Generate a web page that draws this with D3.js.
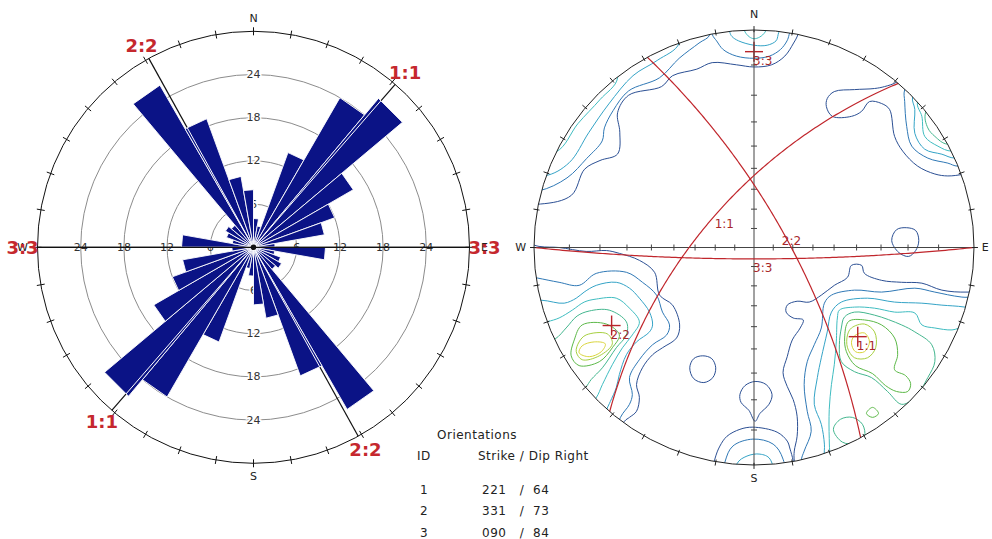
<!DOCTYPE html>
<html>
<head>
<meta charset="utf-8">
<script src="https://cdn.jsdelivr.net/npm/d3@7/dist/d3.min.js"></script>
<style>
  html, body { margin: 0; padding: 0; background: #fff; }
  svg { display: block; }
  text { font-family: "DejaVu Sans", Verdana, sans-serif; }
</style>
</head>
<body>
<svg id="chart" width="992" height="539"></svg>
<script>
// ---------- Rose diagram data: strike counts per 10° bin (bidirectional) ----------
const binStarts = [0, 10, 20, 30, 40, 50, 60, 70, 80, 90, 100, 110, 120, 130, 140, 150, 160, 170];
const binCounts = [4, 3, 14, 24, 27, 16, 12, 10, 3, 10, 3, 4, 4.5, 4, 26, 19, 10, 8];
const binWidth = 10;
const roseMax = 30;
const ringValues = [6, 12, 18, 24];

// ---------- Orientation sets (strike / dip, right-hand rule) ----------
const setIds = [1, 2, 3];
const strikes = [221, 331, 90];
const dips = [64, 73, 84];

const compassLabels = ["N", "E", "S", "W"];
const compassAz = [0, 90, 180, 270];

// ---------- Pole density contours ----------
// colours from the lowest (1) to the highest (8) level
const levelColors = ["#2b4f93", "#2f78b5", "#34a3c6", "#3fbcc0", "#43b68e", "#5cb848", "#a6cf3f", "#d9d43c"];

// rings in net units: percent of the primitive radius, x to the east, y to the north
const nwBandContours = [
  { level: 1, pts: [[-115,22],[-97,20],[-83,24],[-77,36],[-70,40],[-62,43],[-61,53],[-62,62],[-57,70],[-42,74],[-37,79],[-26,82],[-19,85],[-8,84],[0,83],[8,84],[14,88],[18,94],[20,98],[25,120],[0,125],[-60,110],[-110,50]] },
  { level: 2, pts: [[-118,26],[-98,26],[-85,32],[-76,41],[-69,49],[-68,55],[-64,63],[-57,72],[-43,78],[-34,87],[-25,94],[-20,98],[-24,120],[-80,95],[-115,40]] },
  { level: 3, pts: [[-112,36],[-95,33],[-84,39],[-75,53],[-66,66],[-55,79],[-44,86],[-34,94],[-38,115],[-80,90]] },
  { level: 4, pts: [[-110,45],[-90,44],[-80,57],[-70,68],[-62,78],[-70,100],[-100,75]] }
];
const northContours = [
  { level: 2, pts: [[-22,120],[-19,98],[-17,95],[-14,91],[-8,88],[0,87],[7,88],[12,91],[15,95],[16,98],[20,120]] },
  { level: 3, pts: [[-14,120],[-11,99],[-10,97],[-7,95],[0,93],[6,93],[10,95],[11,98],[14,120]] },
  { level: 4, pts: [[-6,115],[-4,99],[0,96],[5,99],[7,115]] }
];
const northEastContours = [
  { level: 1, pts: [[80,90],[65.3,76.3],[59.4,74],[54.8,73.1],[45.7,72.6],[36.5,71.7],[33.3,68.5],[32.9,64.8],[35.6,60.3],[44.3,60.3],[48.9,62.6],[52.5,67.1],[58,66.2],[61.6,63.5],[63.9,51.1],[67.6,44.3],[74.4,37.4],[82.2,33.8],[88.1,32.9],[95.9,33.8],[115,38],[110,75]] },
  { level: 2, pts: [[82,95],[68.5,72.6],[68.5,67.1],[69.4,55.7],[71.7,46.6],[79,41.1],[88.1,38.8],[92.7,37.4],[112,42],[105,75]] },
  { level: 3, pts: [[86,90],[72.1,69.4],[73.1,63.5],[73.1,52.5],[77.6,45.2],[85.4,42.9],[91.3,41.1],[110,45],[105,70]] },
  { level: 4, pts: [[88,85],[74.3,66.9],[76.3,60.3],[77.6,51.1],[83.6,46.6],[90,44.3],[108,50]] },
  { level: 5, pts: [[92,78],[78,62],[79,55],[82.2,51.1],[88.1,47.5],[105,55]] }
];
const spotContours = [
  { level: 1, pts: [[62.6,3.2],[64.8,8.2],[69.4,9.1],[73.5,7.8],[74.9,3.2],[73.5,-1.4],[70.3,-4.1],[65.8,-2.3]] },
  { level: 1, pts: [[-29.2,-55.3],[-27.4,-51.1],[-23.3,-49.8],[-19.2,-51.1],[-17.4,-55.3],[-18.7,-59.8],[-22.8,-62.1],[-27.4,-60.3]] },
  { level: 1, pts: [[-6.4,-67.6],[-4.1,-63.5],[0.5,-61.6],[5.5,-63],[8.2,-67.6],[6.8,-72.1],[2.7,-76.3],[0.5,-79.9],[-2.3,-74.9],[-5.9,-71.2]] }
];
const southWestContours = [
  { level: 1, pts: [[-115,5],[-97.7,0.5],[-88.6,0],[-76.3,-1.8],[-67.1,-1.4],[-61.2,-2.7],[-52.1,-5.9],[-45.2,-11.4],[-42.9,-21.9],[-37,-26.5],[-33.8,-35.6],[-35.2,-41.6],[-41.6,-46.1],[-46.1,-49.3],[-50.7,-55.3],[-53.4,-63],[-52.1,-68.9],[-53.4,-75.3],[-56.6,-78.1],[-58.9,-79.9],[-70,-100],[-120,-40]] },
  { level: 2, pts: [[-120,-10],[-99.1,-13.9],[-88.6,-16],[-79.5,-17.4],[-71.7,-11.9],[-58,-11.4],[-50.7,-16],[-44.3,-21.9],[-41.6,-29.7],[-38.4,-35.6],[-39.7,-40.2],[-46.1,-44.7],[-52.1,-51.6],[-56.6,-59.8],[-55.3,-67.6],[-56.6,-72.1],[-60.7,-78.1],[-68,-100],[-110,-60]] },
  { level: 3, pts: [[-120,-25],[-97,-24.2],[-86.3,-25.6],[-80.8,-23.3],[-77.2,-20.5],[-71.7,-17.4],[-62.6,-16],[-56.6,-18.7],[-52.1,-23.3],[-47.5,-29.7],[-46.1,-35.6],[-47.5,-38.8],[-53.4,-43.4],[-58,-49.3],[-61.2,-58.4],[-62.6,-64.4],[-65.3,-70.8],[-66.9,-74.3],[-75,-95],[-110,-60]] },
  { level: 4, pts: [[-115,-40],[-94.1,-34.2],[-88.6,-32.4],[-82.6,-28.8],[-77.2,-25.1],[-71.7,-23.7],[-62.6,-23.3],[-56.6,-27.9],[-52.1,-34.2],[-55.3,-40.2],[-59.8,-46.1],[-64.4,-53.9],[-68.9,-63],[-71.9,-69.4],[-85,-85],[-110,-60]] },
  { level: 5, pts: [[-110,-50],[-90.6,-42.2],[-85.4,-37],[-80.4,-31.5],[-74.9,-29.2],[-65.8,-28.8],[-58,-34.2],[-58,-40.2],[-62.6,-46.1],[-68.9,-55.3],[-74,-60.7],[-76.7,-64.4],[-95,-78]] },
  { level: 6, pts: [[-78.1,-35.6],[-67.1,-35.2],[-61.2,-40.2],[-64.4,-46.1],[-70.3,-52.5],[-79.5,-54.3],[-83.1,-49.8],[-81.7,-42.5]] },
  { level: 7, pts: [[-76.3,-40.2],[-66.7,-39.7],[-64.4,-44.3],[-70.3,-49.8],[-78.1,-51.6],[-80.8,-47.9],[-79.5,-43.4]] },
  { level: 8, pts: [[-78.1,-45.2],[-72.6,-43.4],[-67.6,-44.3],[-69.4,-47.9],[-74.9,-50.2],[-79.5,-48.4]] }
];
const southContours = [
  { level: 1, pts: [[-22,-120],[-17.8,-97.3],[-15.5,-91.3],[-12.3,-86.8],[-6.4,-83.6],[-0.5,-82.6],[10.5,-84.9],[15.1,-89],[16.4,-92.7],[17.8,-98.2],[20,-120]] },
  { level: 2, pts: [[-16,-120],[-13.2,-98.6],[-9.6,-91.3],[-0.5,-88.1],[8.7,-90.4],[13.2,-97.3],[15,-120]] },
  { level: 3, pts: [[-9,-120],[-7.8,-99.5],[-3.2,-95.9],[2.7,-95],[7.3,-97.3],[9,-120]] }
];
const southEastContours = [
  { level: 1, pts: [[120,-18],[97.3,-20.5],[85.4,-19.6],[76.3,-16.4],[67.1,-16],[58,-15.1],[50.2,-11.9],[48.9,-8.2],[44.3,-8.2],[42.5,-13.7],[36.5,-17.4],[30.6,-21.9],[25.1,-25.1],[19.6,-24.7],[15.1,-26.5],[14.6,-29.7],[17.8,-32.4],[22.4,-33.3],[21,-37],[17.4,-42.5],[15.1,-50.2],[13.2,-57.5],[15.1,-63.9],[17.8,-69.9],[19.6,-77.6],[19.6,-86.8],[18.3,-93.6],[18.3,-98.2],[22,-120],[90,-90]] },
  { level: 2, pts: [[120,-24],[94.5,-22.8],[82.2,-20.5],[73.1,-18.7],[58,-20.5],[45.7,-19.6],[35.2,-21.9],[32,-25.6],[30.6,-37],[27.4,-44.7],[24.2,-52.5],[22.8,-63],[24.2,-75.3],[26,-84.5],[22.8,-93.6],[21.5,-98.2],[26,-120],[90,-90]] },
  { level: 3, pts: [[118,-32],[95.9,-27.4],[85.4,-26.5],[76.3,-25.6],[63.9,-25.1],[51.6,-23.3],[39.7,-25.1],[35.2,-29.7],[33.3,-38.8],[30.6,-50.7],[28.8,-59.8],[27.4,-72.1],[30.6,-81.3],[32,-90.4],[32,-96.3],[36,-120],[95,-85]] },
  { level: 4, pts: [[115,-40],[95.9,-36.5],[90,-37.9],[82.2,-37],[76.3,-35.6],[73.1,-30.1],[63.9,-29.7],[54.8,-27.9],[45.7,-27.4],[38.8,-28.8],[37.9,-32.4],[37.4,-43.4],[36.5,-53.9],[35.2,-63],[34.2,-74.4],[34.2,-87.7],[34.7,-96.3],[40,-120],[95,-85]] },
  { level: 5, pts: [[41.1,-32],[45.7,-29.7],[54.8,-31.1],[67.1,-35.6],[73.1,-38.8],[80.8,-44.7],[82.2,-52.5],[79,-59.8],[73.1,-68.9],[67.1,-72.1],[60.7,-66.2],[53.4,-59.8],[45.7,-57.1],[39.7,-52.5],[38.8,-44.7],[39.7,-37]] },
  { level: 6, pts: [[43,-34],[50.2,-33.3],[58,-35.6],[63.9,-41.6],[65.3,-49.3],[63.9,-56.2],[68.9,-58.9],[71.2,-62.6],[69.9,-66.2],[64.8,-66.2],[59.8,-63.5],[53.9,-58],[46.1,-54.3],[42,-47.9],[41.2,-41.6]] },
  { level: 7, pts: [[44.3,-37],[50.2,-35.2],[54.8,-38.8],[55.3,-46.1],[51.6,-50.7],[45.7,-50.7],[42.5,-46.1],[42.5,-40.2]] },
  { level: 8, pts: [[45.7,-40.6],[50.2,-39.3],[52.5,-43.4],[50.2,-47.9],[46.1,-47.9],[44.3,-43.8]] },
  { level: 5, pts: [[36.1,-83.6],[39.3,-79],[44.7,-78.1],[49.3,-81.3],[50.2,-86.8],[46.1,-90],[40.2,-89.5]] },
  { level: 6, pts: [[51.1,-76.3],[53.9,-73.5],[56.6,-76.3],[53.9,-78.1]] }
];

// ---------- helpers ----------
const svg = d3.select("#chart");
const defs = svg.append("defs");
const toRad = d => d * Math.PI / 180;
const RED = "#c5282e";

// ================= Rose diagram =================
const rose = { cx: 253.5, cy: 247.3, R: 216 };
const rScale = d3.scaleLinear().domain([0, roseMax]).range([0, rose.R]);
const rosePt = (az, v) => {
  const r = rScale(v);
  return [rose.cx + r * Math.sin(toRad(az)), rose.cy - r * Math.cos(toRad(az))];
};
const roseG = svg.append("g");

// rings
roseG.selectAll("circle.ring").data(ringValues).join("circle")
  .attr("cx", rose.cx).attr("cy", rose.cy).attr("r", d => rScale(d))
  .attr("fill", "none").attr("stroke", "#8c8c8c").attr("stroke-width", 1);

// ring labels (vertical axis, with a halo that breaks the ring line)
const ringLabelData = [];
ringValues.forEach(v => {
  ringLabelData.push({ v, x: rose.cx, y: rose.cy - rScale(v), halo: true });
  ringLabelData.push({ v, x: rose.cx, y: rose.cy + rScale(v), halo: true });
  ringLabelData.push({ v, x: rose.cx - rScale(v), y: rose.cy, halo: false });
  ringLabelData.push({ v, x: rose.cx + rScale(v), y: rose.cy, halo: false });
});
roseG.selectAll("text.ringlab").data(ringLabelData).join("text")
  .attr("x", d => d.x).attr("y", d => d.y)
  .attr("text-anchor", "middle").attr("dominant-baseline", "central")
  .attr("font-size", 11).attr("fill", "#333")
  .attr("stroke", d => d.halo ? "#fff" : "none").attr("stroke-width", 3)
  .attr("paint-order", "stroke")
  .text(d => d.v);

// outer circle + 10° ticks
roseG.append("circle").attr("cx", rose.cx).attr("cy", rose.cy).attr("r", rose.R)
  .attr("fill", "none").attr("stroke", "#111").attr("stroke-width", 1);
roseG.selectAll("line.tick").data(d3.range(0, 360, 10)).join("line")
  .attr("x1", d => rose.cx + (rose.R - 4) * Math.sin(toRad(d)))
  .attr("y1", d => rose.cy - (rose.R - 4) * Math.cos(toRad(d)))
  .attr("x2", d => rose.cx + (rose.R + 4) * Math.sin(toRad(d)))
  .attr("y2", d => rose.cy - (rose.R + 4) * Math.cos(toRad(d)))
  .attr("stroke", "#111").attr("stroke-width", 1);

// set strike lines (black under the petals)
const strikeLineData = [];
strikes.forEach((s, i) => {
  strikeLineData.push({ id: setIds[i], az: s });
  strikeLineData.push({ id: setIds[i], az: (s + 180) % 360 });
});
const strikeLine = d => {
  const p = rosePt(d.az, roseMax);
  return `M${rose.cx},${rose.cy}L${p[0]},${p[1]}`;
};
roseG.selectAll("path.strike").data(strikeLineData).join("path")
  .attr("d", strikeLine).attr("stroke", "#111").attr("stroke-width", 1.2).attr("fill", "none");

// petals: each bin drawn in both directions
const petals = [];
binStarts.forEach((b, i) => {
  [0, 180].forEach(off => petals.push({ a0: b + off, a1: b + off + binWidth, v: binCounts[i] }));
});
const petalPath = d => {
  const p0 = rosePt(d.a0, d.v), p1 = rosePt(d.a1, d.v);
  return `M${rose.cx},${rose.cy}L${p0[0]},${p0[1]}L${p1[0]},${p1[1]}Z`;
};
defs.append("clipPath").attr("id", "petalClip")
  .selectAll("path").data(petals).join("path").attr("d", petalPath);
roseG.selectAll("path.petal").data(petals).join("path")
  .attr("d", petalPath)
  .attr("fill", "#0b1386").attr("stroke", "#fff").attr("stroke-width", 0.9)
  .attr("stroke-linejoin", "miter");

// strike lines shown in white where they cross the petals
roseG.append("g").attr("clip-path", "url(#petalClip)")
  .selectAll("path").data(strikeLineData).join("path")
  .attr("d", strikeLine).attr("stroke", "#fff").attr("stroke-width", 1).attr("fill", "none");

// E-W axis and centre
roseG.append("line")
  .attr("x1", rose.cx - rose.R).attr("x2", rose.cx + rose.R)
  .attr("y1", rose.cy).attr("y2", rose.cy)
  .attr("stroke", "#111").attr("stroke-width", 1.3);
roseG.append("circle").attr("cx", rose.cx).attr("cy", rose.cy).attr("r", 2.8).attr("fill", "#111");

// compass letters
roseG.selectAll("text.compass").data(compassLabels).join("text")
  .attr("x", (d, i) => rose.cx + (rose.R + 15) * Math.sin(toRad(compassAz[i])))
  .attr("y", (d, i) => rose.cy - (rose.R + 13) * Math.cos(toRad(compassAz[i])))
  .attr("text-anchor", "middle").attr("dominant-baseline", "central")
  .attr("font-size", 11).attr("fill", "#222").text(d => d);

// set labels at both ends of each strike
roseG.selectAll("text.setlab").data(strikeLineData).join("text")
  .attr("x", d => rosePt(d.az, roseMax)[0] + 15 * Math.sin(toRad(d.az)))
  .attr("y", d => rosePt(d.az, roseMax)[1] - 15 * Math.cos(toRad(d.az)))
  .attr("text-anchor", "middle").attr("dominant-baseline", "central")
  .attr("font-family", "'Liberation Sans', Arial, sans-serif")
  .attr("font-size", 18).attr("font-weight", "bold").attr("fill", RED)
  .text(d => `${d.id}:${d.id}`);

// ================= Stereonet =================
const net = { cx: 754, cy: 247.5, rx: 220, ry: 217.5 };
const xNet = d3.scaleLinear().domain([-100, 100]).range([net.cx - net.rx, net.cx + net.rx]);
const yNet = d3.scaleLinear().domain([-100, 100]).range([net.cy + net.ry, net.cy - net.ry]);
// equal-angle (stereographic) lower-hemisphere projection, in net units
const stereo = (trend, plunge) => {
  const r = 100 * Math.tan(toRad(90 - plunge) / 2);
  return [r * Math.sin(toRad(trend)), r * Math.cos(toRad(trend))];
};
const netG = svg.append("g");
defs.append("clipPath").attr("id", "netClip")
  .append("ellipse").attr("cx", net.cx).attr("cy", net.cy).attr("rx", net.rx).attr("ry", net.ry);

// density contours
const allContours = [].concat(nwBandContours, northContours, northEastContours, spotContours,
  southWestContours, southContours, southEastContours);
const ringLine = d3.line().x(d => xNet(d[0])).y(d => yNet(d[1]))
  .curve(d3.curveCatmullRomClosed.alpha(0.5));
netG.append("g").attr("clip-path", "url(#netClip)")
  .selectAll("path").data(allContours).join("path")
  .attr("d", d => ringLine(d.pts))
  .attr("fill", "none").attr("stroke", d => levelColors[d.level - 1]).attr("stroke-width", 1);

// poles to planes (drawn under the axes)
const poles = setIds.map((id, i) => ({ id, p: stereo((strikes[i] + 270) % 360, 90 - dips[i]) }));
const poleG = netG.append("g");
poles.forEach(d => {
  const x = xNet(d.p[0]), y = yNet(d.p[1]);
  poleG.append("line").attr("x1", x - 9).attr("x2", x + 9).attr("y1", y).attr("y2", y)
    .attr("stroke", "#b8242a").attr("stroke-width", 1.4);
  poleG.append("line").attr("x1", x).attr("x2", x).attr("y1", y - 10).attr("y2", y + 10)
    .attr("stroke", "#b8242a").attr("stroke-width", 1.4);
});

// axes with 10° dip ticks
const axisTicks = [10, 20, 30, 40, 50, 60, 70, 80];
netG.append("line").attr("x1", xNet(-100)).attr("x2", xNet(100)).attr("y1", yNet(0)).attr("y2", yNet(0))
  .attr("stroke", "#444").attr("stroke-width", 1);
netG.append("line").attr("x1", xNet(0)).attr("x2", xNet(0)).attr("y1", yNet(100)).attr("y2", yNet(-100))
  .attr("stroke", "#444").attr("stroke-width", 1);
const tickPos = [];
axisTicks.forEach(t => {
  const r = stereo(0, 90 - t)[1];
  tickPos.push({ h: true, v: r }, { h: true, v: -r }, { h: false, v: r }, { h: false, v: -r });
});
netG.selectAll("line.atick").data(tickPos).join("line")
  .attr("x1", d => d.h ? xNet(d.v) : xNet(0) - 3)
  .attr("x2", d => d.h ? xNet(d.v) : xNet(0) + 3)
  .attr("y1", d => d.h ? yNet(0) - 3 : yNet(d.v))
  .attr("y2", d => d.h ? yNet(0) + 3 : yNet(d.v))
  .attr("stroke", "#444").attr("stroke-width", 1);

// great circles
function greatCircle(strike, dip) {
  const s = toRad(strike), d = toRad(dip), dd = toRad(strike + 90);
  const S = [Math.cos(s), Math.sin(s), 0];
  const D = [Math.cos(d) * Math.cos(dd), Math.cos(d) * Math.sin(dd), Math.sin(d)];
  return d3.range(0, 181, 1).map(t => {
    const a = toRad(t);
    const n = Math.cos(a) * S[0] + Math.sin(a) * D[0];
    const e = Math.cos(a) * S[1] + Math.sin(a) * D[1];
    const z = Math.cos(a) * S[2] + Math.sin(a) * D[2];
    const plunge = Math.asin(Math.max(-1, Math.min(1, z))) * 180 / Math.PI;
    const trend = Math.atan2(e, n) * 180 / Math.PI;
    return stereo(trend, plunge);
  });
}
const gcLine = d3.line().x(d => xNet(d[0])).y(d => yNet(d[1]));
netG.selectAll("path.gc").data(setIds).join("path")
  .attr("d", (d, i) => gcLine(greatCircle(strikes[i], dips[i])))
  .attr("fill", "none").attr("stroke", "#c0262c").attr("stroke-width", 1.2);

// labels at the dip point of each great circle and at each pole
const dipPts = setIds.map((id, i) => ({ id, p: stereo((strikes[i] + 90) % 360, dips[i]) }));
netG.selectAll("text.gclab").data(dipPts.concat(poles)).join("text")
  .attr("x", d => xNet(d.p[0]) - 1).attr("y", d => yNet(d.p[1]) + 13)
  .attr("font-family", "'Liberation Sans', Arial, sans-serif")
  .attr("font-size", 12).attr("fill", "#a8272b")
  .text(d => `${d.id}:${d.id}`);

// primitive circle with 10° ticks
netG.append("ellipse").attr("cx", net.cx).attr("cy", net.cy).attr("rx", net.rx).attr("ry", net.ry)
  .attr("fill", "none").attr("stroke", "#222").attr("stroke-width", 1);
netG.selectAll("line.ptick").data(d3.range(0, 360, 10)).join("line")
  .attr("x1", d => xNet(99 * Math.sin(toRad(d)))).attr("y1", d => yNet(99 * Math.cos(toRad(d))))
  .attr("x2", d => xNet(101.8 * Math.sin(toRad(d)))).attr("y2", d => yNet(101.8 * Math.cos(toRad(d))))
  .attr("stroke", "#222").attr("stroke-width", 1);

netG.selectAll("text.ncompass").data(compassLabels).join("text")
  .attr("x", (d, i) => xNet(106 * Math.sin(toRad(compassAz[i]))) + (i === 1 ? -2 : 0))
  .attr("y", (d, i) => yNet(106 * Math.cos(toRad(compassAz[i]))) + (i === 0 ? -2 : 0))
  .attr("text-anchor", "middle").attr("dominant-baseline", "central")
  .attr("font-size", 11).attr("fill", "#222").text(d => d);

// ================= Orientation table =================
const tbl = svg.append("g").attr("font-size", 12).attr("fill", "#222").attr("letter-spacing", 0.5);
tbl.append("text").attr("x", 437).attr("y", 439).text("Orientations");
tbl.append("text").attr("x", 417).attr("y", 460).text("ID");
tbl.append("text").attr("x", 478).attr("y", 460).text("Strike / Dip Right");
const rowY = [494, 515, 537];
const fmt3 = d3.format("03d");
tbl.selectAll("text.rid").data(setIds).join("text")
  .attr("x", 424).attr("y", (d, i) => rowY[i]).attr("text-anchor", "middle").text(d => d);
tbl.selectAll("text.rs").data(strikes).join("text")
  .attr("x", 482).attr("y", (d, i) => rowY[i]).text(d => fmt3(d));
tbl.selectAll("text.rsl").data(strikes).join("text")
  .attr("x", 522).attr("y", (d, i) => rowY[i]).attr("text-anchor", "middle").text("/");
tbl.selectAll("text.rd").data(dips).join("text")
  .attr("x", 533).attr("y", (d, i) => rowY[i]).text(d => d);
</script>
</body>
</html>
